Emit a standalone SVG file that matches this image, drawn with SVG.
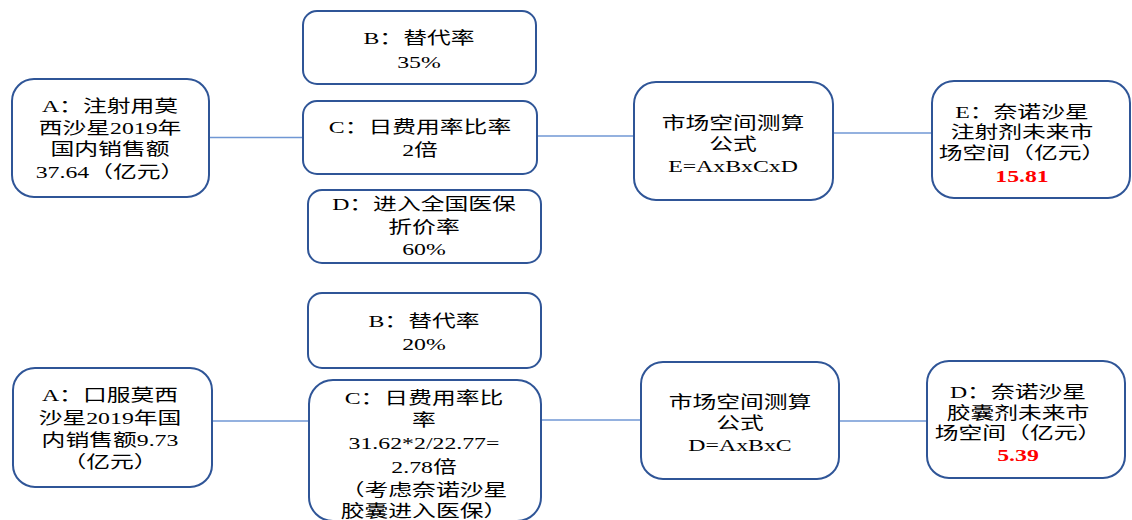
<svg xmlns="http://www.w3.org/2000/svg" width="1132" height="520" viewBox="0 0 1132 520">
<style>
.box{fill:#fff;stroke:#2F5597;stroke-width:2}
.con{stroke:#7097D4;stroke-width:1.3;fill:none}
text{font-family:"Liberation Serif","Noto Sans CJK SC",serif;font-size:17px;fill:#000;text-anchor:middle}
.red{fill:#FF0000;font-weight:bold}
</style>
<rect width="1132" height="520" fill="#fff"/>
<g id="connectors">
<line class="con" x1="209" y1="137.5" x2="303" y2="137.5"/>
<line class="con" x1="537" y1="136" x2="634" y2="136"/>
<line class="con" x1="833" y1="133" x2="932" y2="133"/>
<line class="con" x1="212" y1="421" x2="309" y2="421"/>
<line class="con" x1="541" y1="420" x2="641" y2="420"/>
<line class="con" x1="839" y1="421" x2="927" y2="421"/>
</g>
<g id="A1">
<rect class="box" x="12" y="79" width="197" height="118" rx="22"/>
<text transform="matrix(1.4 0 0 1 110 0)"><tspan x="0" y="112">A：注射用莫</tspan><tspan x="0" y="134">西沙星2019年</tspan><tspan x="0" y="155">国内销售额</tspan><tspan x="0" y="178">37.64（亿元）</tspan></text>
</g>
<g id="B1">
<rect class="box" x="303" y="11" width="233" height="73" rx="14"/>
<text transform="matrix(1.4 0 0 1 419 0)"><tspan x="0" y="44">B：替代率</tspan><tspan x="0" y="68">35%</tspan></text>
</g>
<g id="C1">
<rect class="box" x="303" y="101" width="234" height="73" rx="14"/>
<text transform="matrix(1.4 0 0 1 420 0)"><tspan x="0" y="133">C：日费用率比率</tspan><tspan x="0" y="156">2倍</tspan></text>
</g>
<g id="D1">
<rect class="box" x="308" y="190" width="233" height="73" rx="14"/>
<text transform="matrix(1.4 0 0 1 424 0)"><tspan x="0" y="210">D：进入全国医保</tspan><tspan x="0" y="233">折价率</tspan><tspan x="0" y="255">60%</tspan></text>
</g>
<g id="F1">
<rect class="box" x="634" y="82" width="199" height="118" rx="22"/>
<text transform="matrix(1.4 0 0 1 733 0)"><tspan x="0" y="129">市场空间测算</tspan><tspan x="0" y="150">公式</tspan><tspan x="0" y="172">E=AxBxCxD</tspan></text>
</g>
<g id="E1">
<rect class="box" x="932" y="81" width="198" height="117" rx="22"/>
<text transform="matrix(1.4 0 0 1 1022 0)"><tspan x="0" y="118">E：奈诺沙星</tspan><tspan x="0" y="138">注射剂未来市</tspan><tspan x="0" y="159">场空间（亿元）</tspan><tspan x="0" y="182" class="red">15.81</tspan></text>
</g>
<g id="B2">
<rect class="box" x="308" y="293" width="233" height="75" rx="14"/>
<text transform="matrix(1.4 0 0 1 424 0)"><tspan x="0" y="327">B：替代率</tspan><tspan x="0" y="350">20%</tspan></text>
</g>
<g id="A2">
<rect class="box" x="13" y="368" width="199" height="119" rx="22"/>
<text transform="matrix(1.4 0 0 1 110 0)"><tspan x="0" y="401">A：口服莫西</tspan><tspan x="0" y="424">沙星2019年国</tspan><tspan x="0" y="446">内销售额9.73</tspan><tspan x="0" y="468">（亿元）</tspan></text>
</g>
<g id="C2">
<rect class="box" x="309" y="380" width="232" height="141" rx="24"/>
<text transform="matrix(1.4 0 0 1 424 0)"><tspan x="0" y="404">C：日费用率比</tspan><tspan x="0" y="426">率</tspan><tspan x="0" y="449">31.62*2/22.77=</tspan><tspan x="0" y="473">2.78倍</tspan><tspan x="0" y="496">（考虑奈诺沙星</tspan><tspan x="0" y="517">胶囊进入医保）</tspan></text>
</g>
<g id="F2">
<rect class="box" x="641" y="362" width="198" height="117" rx="22"/>
<text transform="matrix(1.4 0 0 1 740 0)"><tspan x="0" y="408">市场空间测算</tspan><tspan x="0" y="429">公式</tspan><tspan x="0" y="451">D=AxBxC</tspan></text>
</g>
<g id="E2">
<rect class="box" x="927" y="361" width="198" height="117" rx="22"/>
<text transform="matrix(1.4 0 0 1 1018 0)"><tspan x="0" y="398">D：奈诺沙星</tspan><tspan x="0" y="419">胶囊剂未来市</tspan><tspan x="0" y="439">场空间（亿元）</tspan><tspan x="0" y="461" class="red">5.39</tspan></text>
</g>
</svg>
